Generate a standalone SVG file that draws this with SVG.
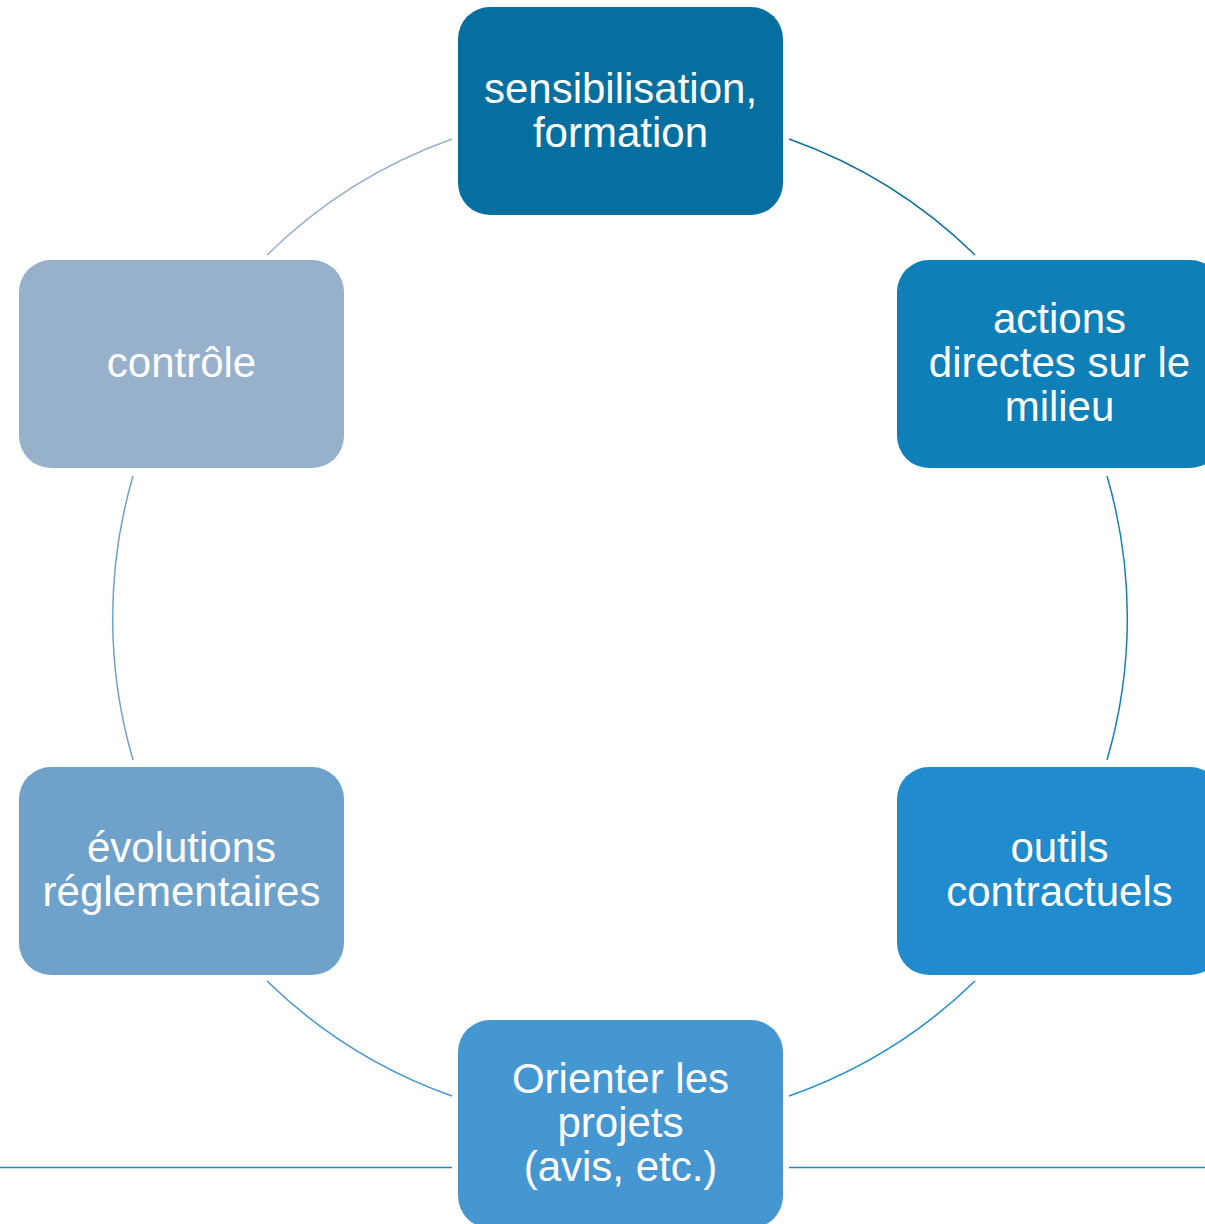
<svg xmlns="http://www.w3.org/2000/svg" width="1205" height="1224" viewBox="0 0 1205 1224">
<style>
.box{stroke:none}
.lbl{font-family:"Liberation Sans",Arial,sans-serif;font-size:42px;fill:#ffffff;text-anchor:middle}
.arc{fill:none;stroke-width:1.5}
</style>
<rect width="1205" height="1224" fill="#ffffff"/>
<g id="connectors">
<path class="arc" stroke="#0b6fa0" d="M789,139 A506,506 0 0 1 975,255"/>
<path class="arc" stroke="#1680bb" d="M1107,476 A506,506 0 0 1 1107,760"/>
<path class="arc" stroke="#218dcd" d="M975,981 A506,506 0 0 1 789,1096"/>
<path class="arc" stroke="#4597d2" d="M452,1096 A506,506 0 0 1 267,981"/>
<path class="arc" stroke="#6ea2cb" d="M133,760 A506,506 0 0 1 133,476"/>
<path class="arc" stroke="#97b1cc" d="M267,255 A506,506 0 0 1 452,139"/>
<line x1="0" y1="1167.5" x2="452" y2="1167.5" stroke="#2a88b8" stroke-width="1.5"/>
<line x1="789" y1="1167.5" x2="1205" y2="1167.5" stroke="#2a88b8" stroke-width="1.5"/>
</g>
<g id="node-sensibilisation">
<rect class="box" x="458" y="7" width="325" height="208" rx="32" fill="#0570a0"/>
<text class="lbl" x="620.5" y="103">sensibilisation,</text>
<text class="lbl" x="620.5" y="147">formation</text>
</g>
<g id="node-actions">
<rect class="box" x="897" y="260" width="325" height="208" rx="32" fill="#0f7fb8"/>
<text class="lbl" x="1059.5" y="333">actions</text>
<text class="lbl" x="1059.5" y="377">directes sur le</text>
<text class="lbl" x="1059.5" y="421">milieu</text>
</g>
<g id="node-outils">
<rect class="box" x="897" y="767" width="325" height="208" rx="32" fill="#208ccd"/>
<text class="lbl" x="1059.5" y="862">outils</text>
<text class="lbl" x="1059.5" y="906">contractuels</text>
</g>
<g id="node-orienter">
<rect class="box" x="458" y="1020" width="325" height="208" rx="32" fill="#4597d2"/>
<text class="lbl" x="620.5" y="1093">Orienter les</text>
<text class="lbl" x="620.5" y="1137">projets</text>
<text class="lbl" x="620.5" y="1181">(avis, etc.)</text>
</g>
<g id="node-evolutions">
<rect class="box" x="19" y="767" width="325" height="208" rx="32" fill="#6ea2cb"/>
<text class="lbl" x="181.5" y="862">évolutions</text>
<text class="lbl" x="181.5" y="906">réglementaires</text>
</g>
<g id="node-controle">
<rect class="box" x="19" y="260" width="325" height="208" rx="32" fill="#97b1cc"/>
<text class="lbl" x="181.5" y="377">contrôle</text>
</g>
</svg>
